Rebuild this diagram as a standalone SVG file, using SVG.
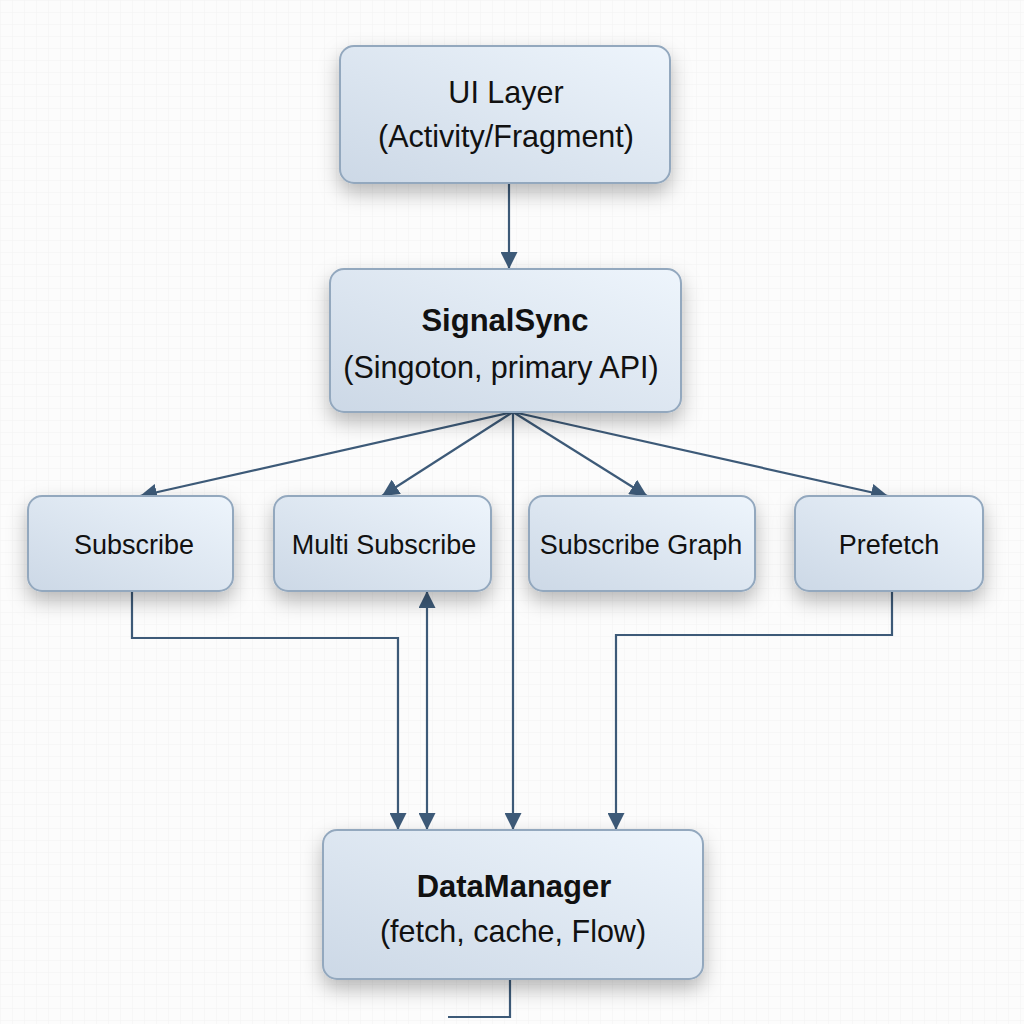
<svg xmlns="http://www.w3.org/2000/svg" width="1024" height="1024" viewBox="0 0 1024 1024">
  <defs>
    <pattern id="grid" width="12" height="12" patternUnits="userSpaceOnUse">
      <path d="M12 0 L0 0 0 12" fill="none" stroke="#f2f2f2" stroke-width="1"/>
    </pattern>
    <linearGradient id="boxFill" x1="0" y1="1" x2="1" y2="0">
      <stop offset="0" stop-color="#ccd8e6"/>
      <stop offset="1" stop-color="#eef5fc"/>
    </linearGradient>
    <filter id="shadow" x="-20%" y="-20%" width="140%" height="170%">
      <feDropShadow dx="0" dy="9" stdDeviation="10" flood-color="#000000" flood-opacity="0.28"/>
    </filter>
    <marker id="arrow" markerWidth="17" markerHeight="17" refX="17" refY="8.5" orient="auto" markerUnits="userSpaceOnUse">
      <path d="M0 0 L17 8.5 L0 17 Z" fill="#3d5a78"/>
    </marker>
    <marker id="arrowStart" markerWidth="17" markerHeight="17" refX="0" refY="8.5" orient="auto" markerUnits="userSpaceOnUse">
      <path d="M17 0 L0 8.5 L17 17 Z" fill="#3d5a78"/>
    </marker>
  </defs>
  <style>
    .box { fill: url(#boxFill); stroke: #93a8be; stroke-width: 2; filter: url(#shadow); }
    .t { font-family: "Liberation Sans", Arial, sans-serif; fill: #111111; text-anchor: middle; }
    .big { font-size: 30.5px; }
    .bold { font-size: 31px; font-weight: bold; }
    .mid { font-size: 27px; }
    .conn { fill: none; stroke: #3d5a78; stroke-width: 2.2; }
  </style>

  <rect width="1024" height="1024" fill="#fcfcfc"/>
  <rect width="1024" height="1024" fill="url(#grid)"/>

  <g id="connectors">
    <line class="conn" x1="509" y1="183" x2="509" y2="269" marker-end="url(#arrow)"/>
    <line class="conn" x1="513" y1="412" x2="140" y2="496" marker-end="url(#arrow)"/>
    <line class="conn" x1="513" y1="412" x2="382" y2="496" marker-end="url(#arrow)"/>
    <line class="conn" x1="513" y1="412" x2="647" y2="496" marker-end="url(#arrow)"/>
    <line class="conn" x1="513" y1="412" x2="888" y2="496" marker-end="url(#arrow)"/>
    <line class="conn" x1="513" y1="412" x2="513" y2="830" marker-end="url(#arrow)"/>
    <polyline class="conn" points="132,591 132,638 398,638 398,830" marker-end="url(#arrow)"/>
    <line class="conn" x1="427" y1="591" x2="427" y2="830" marker-start="url(#arrowStart)" marker-end="url(#arrow)"/>
    <polyline class="conn" points="892,591 892,635 616,635 616,830" marker-end="url(#arrow)"/>
    <polyline class="conn" points="510,979 510,1017 448,1017"/>
  </g>

  <g id="ui-layer">
    <rect class="box" x="340" y="46" width="330" height="137" rx="14"/>
    <text class="t big" x="506" y="103">UI Layer</text>
    <text class="t big" x="506" y="147">(Activity/Fragment)</text>
  </g>

  <g id="signalsync">
    <rect class="box" x="330" y="269" width="351" height="143" rx="14"/>
    <text class="t bold" x="505" y="331">SignalSync</text>
    <text class="t big" x="501" y="378">(Singoton, primary API)</text>
  </g>

  <g id="subscribe">
    <rect class="box" x="28" y="496" width="205" height="95" rx="14"/>
    <text class="t mid" x="134" y="554">Subscribe</text>
  </g>

  <g id="multi-subscribe">
    <rect class="box" x="274" y="496" width="217" height="95" rx="14"/>
    <text class="t mid" x="384" y="554">Multi Subscribe</text>
  </g>

  <g id="subscribe-graph">
    <rect class="box" x="529" y="496" width="226" height="95" rx="14"/>
    <text class="t mid" x="641" y="554">Subscribe Graph</text>
  </g>

  <g id="prefetch">
    <rect class="box" x="795" y="496" width="188" height="95" rx="14"/>
    <text class="t mid" x="889" y="554">Prefetch</text>
  </g>

  <g id="datamanager">
    <rect class="box" x="323" y="830" width="380" height="149" rx="14"/>
    <text class="t bold" x="514" y="897">DataManager</text>
    <text class="t big" x="513" y="942">(fetch, cache, Flow)</text>
  </g>
</svg>
